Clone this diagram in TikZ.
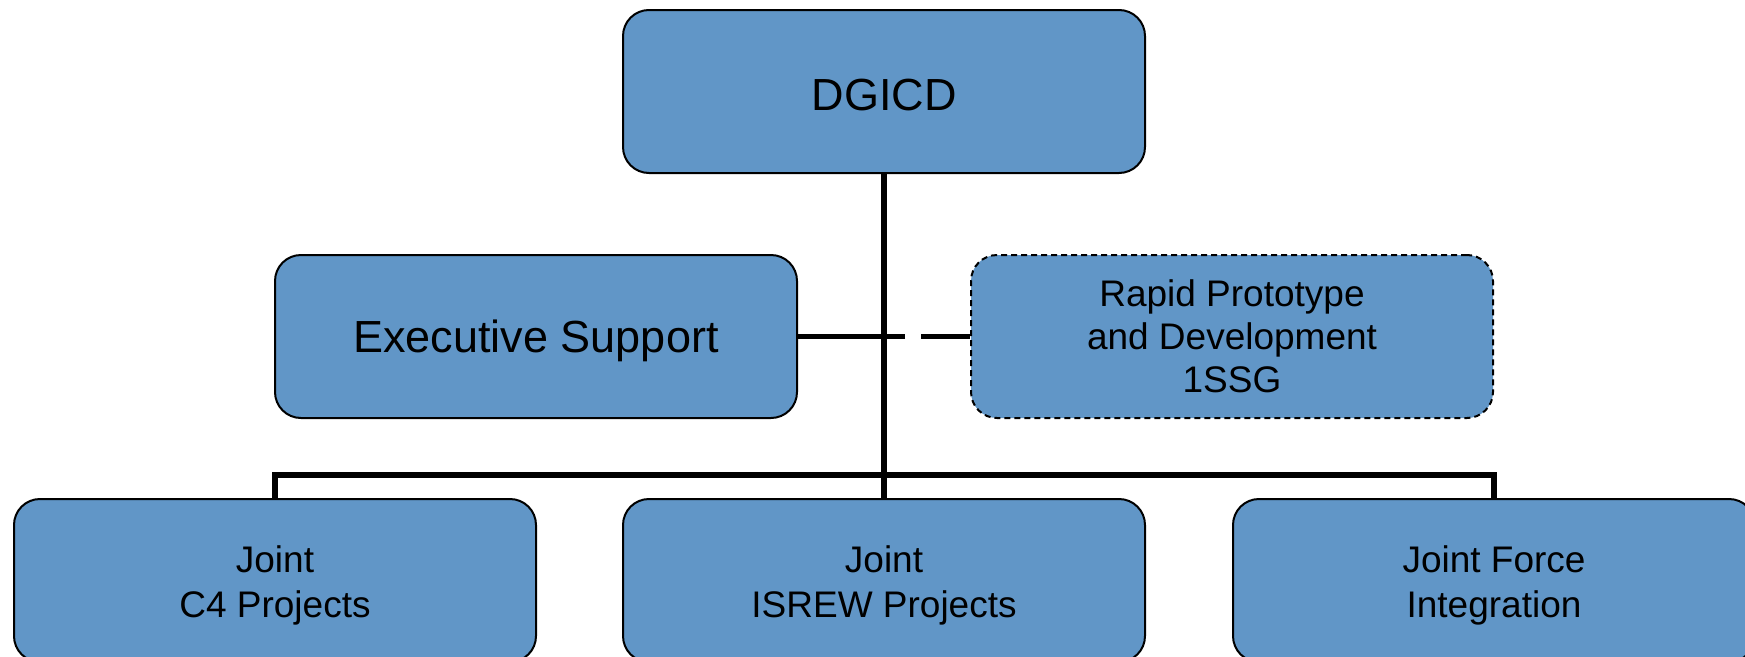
\documentclass[tikz,border=0pt]{standalone}
\usepackage{fontspec}
\setmainfont{Liberation Sans}
\definecolor{boxblue}{RGB}{97,150,199}
\newcommand{\lowerby}[1]{\rule{0pt}{#1}}
\begin{document}
\begin{tikzpicture}[x=1pt,y=-1pt,
  orgbox/.style={draw=black, line width=2pt, fill=boxblue, rounded corners=26pt,
    minimum width=522pt, minimum height=163pt, inner sep=0pt, align=center, anchor=north west},
  dashbox/.style={orgbox, dash pattern=on 6pt off 4pt},
  bigtext/.style={font=\fontsize{45}{54}\selectfont},
  smalltext/.style={font=\fontsize{37}{45}\selectfont},
  rptext/.style={font=\fontsize{37}{43}\selectfont},
  trunk/.style={line width=5.5pt}]
\useasboundingbox (0,0) rectangle (1745,656);
\begin{scope}
\clip (0,0) rectangle (1745,656);
\node[orgbox,bigtext] (dg) at (622,9) {\lowerby{38pt}DGICD};
\node[orgbox,bigtext] (ex) at (274,254) {\lowerby{41pt}Executive Support};
\node[dashbox,rptext] (rp) at (970,254) {Rapid Prototype\\and Development\\1SSG};
\node[orgbox,smalltext] (c4) at (13,498) {\lowerby{37pt}Joint\\C4 Projects};
\node[orgbox,smalltext] (is) at (622,498) {\lowerby{37pt}Joint\\ISREW Projects};
\node[orgbox,smalltext] (jf) at (1232,498) {\lowerby{37pt}Joint Force\\Integration};
\draw[trunk] (dg.south) -- (is.north);
\draw[trunk] (c4.north) -- ++(0,-23) -| (jf.north);
\draw[trunk] (ex.east) -- (ex.east -| dg.south);
\draw[trunk, dash pattern=on 49pt off 16pt] (rp.west) -- (rp.west -| dg.south);
\end{scope}
\end{tikzpicture}
\end{document}
